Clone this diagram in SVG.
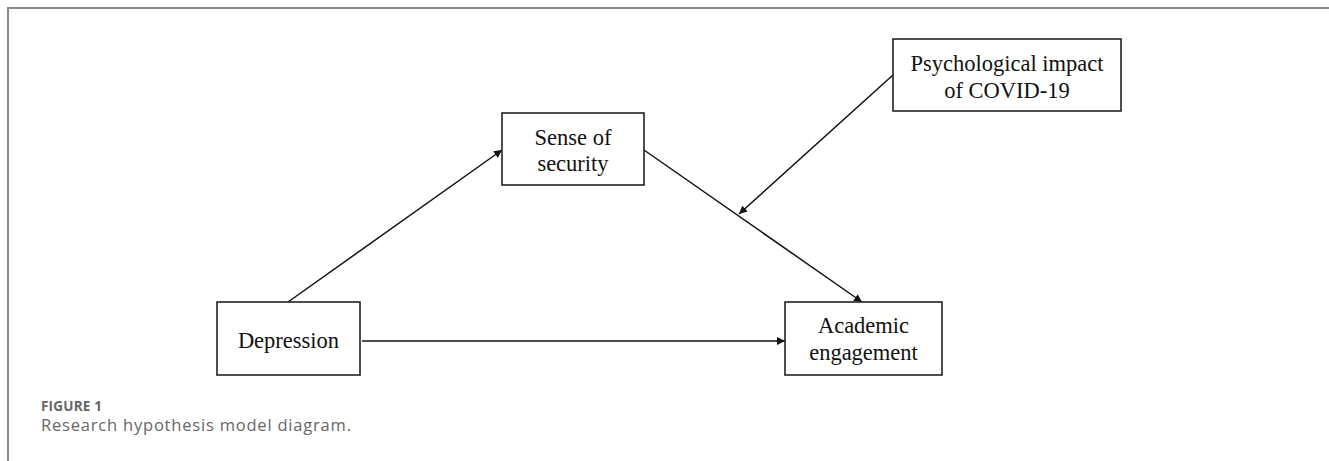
<svg xmlns="http://www.w3.org/2000/svg" width="1329" height="461" viewBox="0 0 1329 461">
<style>
.box{fill:#fff;stroke:#222;stroke-width:1.6}
.t{font-family:"Liberation Serif","Times New Roman",serif;font-size:22.5px;fill:#111;text-anchor:middle}
.c{stroke:#111;stroke-width:1.5;fill:none;marker-end:url(#ah)}
.frame{stroke:#888;stroke-width:2;fill:none}
</style>
<defs>
<marker id="ah" viewBox="0 0 10 10" refX="10" refY="5" markerWidth="8" markerHeight="8" markerUnits="userSpaceOnUse" orient="auto">
<path d="M0,0 L10,5 L0,10 z" fill="#111"/>
</marker>
</defs>
<rect width="1329" height="461" fill="#fff"/>
<path class="frame" d="M8,461 V8 H1329"/>
<g id="connectors">
<line class="c" x1="288" y1="302" x2="502" y2="150"/>
<line class="c" x1="644" y1="150" x2="862" y2="302"/>
<line class="c" x1="362" y1="341" x2="785" y2="341"/>
<line class="c" x1="893" y1="75" x2="739" y2="214"/>
</g>
<g id="psych">
<rect class="box" x="893" y="39" width="228" height="72"/>
<text class="t" x="1007" y="71">Psychological impact</text>
<text class="t" x="1007" y="98">of COVID-19</text>
</g>
<g id="sense">
<rect class="box" x="502" y="113" width="142" height="72"/>
<text class="t" x="573" y="145">Sense of</text>
<text class="t" x="573" y="171">security</text>
</g>
<g id="depression">
<rect class="box" x="217" y="302" width="143" height="73"/>
<text class="t" x="288.5" y="348">Depression</text>
</g>
<g id="academic">
<rect class="box" x="785" y="302" width="157" height="73"/>
<text class="t" x="863.5" y="333">Academic</text>
<text class="t" x="863.5" y="360">engagement</text>
</g>
<g id="caption">
<text x="41" y="410.5" font-family="'Open Sans',sans-serif" font-size="13.5" font-weight="bold" letter-spacing="0.2" fill="#666">FIGURE 1</text>
<text x="41" y="431" font-family="'Open Sans',sans-serif" font-size="16.5" letter-spacing="0.8" fill="#666">Research hypothesis model diagram.</text>
</g>
</svg>
